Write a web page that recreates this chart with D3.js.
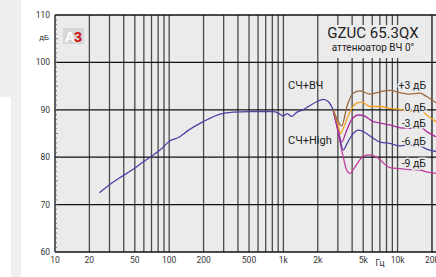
<!DOCTYPE html>
<html>
<head>
<meta charset="utf-8">
<script src="https://cdn.jsdelivr.net/npm/d3@7"></script>
<style>
	body { margin: 0; background: #fff; }
	svg { display: block; font-family: "Liberation Sans Narrow", "Roboto", sans-serif; }
</style>
</head>
<body>
<svg id="chart" width="436" height="277"></svg>
<script>
'use strict';

// * data (freq in Hz, level in dB)
const commonCurve = [
	[24.5, 72.5], [30, 74.2], [36, 75.5], [48, 77.4], [59, 79], [68, 80], [83, 81.5],
	[101, 83.4], [124, 84.3], [142, 85.4], [199, 87.5], [279, 89.1], [364, 89.5],
	[510, 89.6], [816, 89.6], [901, 89.3], [1000, 88.7], [1080, 89.2], [1180, 88.6],
	[1300, 89.4], [1490, 90.0], [1710, 90.9], [1957, 91.7], [2240, 92.2], [2480, 91.7],
	[2735, 90.0]
];

const plus3 = [
	[2735, 90.1], [3000, 87.6], [3250, 86.6], [3580, 90.5], [4093, 93.5], [4690, 94.0],
	[5730, 93.3], [7010, 93.8], [8580, 94.1], [10500, 93.6], [12840, 93.3], [15700, 93.5],
	[17980, 92.8], [21700, 91.5]
];
const zero = [
	[2735, 90.0], [3000, 87.0], [3176, 85.0], [3400, 86.5], [3830, 89.6], [4385, 91.4],
	[4850, 91.6], [5730, 90.7], [7010, 90.7], [8580, 90.3], [10500, 90.1], [12840, 89.6],
	[15700, 90.0], [17980, 88.9], [21700, 87.5]
];
const minus3 = [
	[2735, 89.9], [3000, 86.0], [3239, 83.2], [3500, 85.0], [3830, 87.3], [4529, 88.9],
	[5008, 88.8], [6127, 87.5], [7015, 87.2], [8580, 86.8], [10500, 86.2], [12840, 86.1],
	[15700, 86.4], [17980, 85.4], [21700, 84.3]
];
const minus6 = [
	[2735, 89.8], [3030, 85.5], [3346, 81.5], [3600, 82.8], [3830, 84.0], [4529, 85.7],
	[5008, 85.4], [6127, 84.0], [7015, 83.2], [8580, 82.9], [10500, 82.4], [12840, 82.6],
	[15700, 82.4], [17980, 81.7], [21700, 81.2]
];
const minus9 = [
	[2735, 89.7], [3030, 85.0], [3346, 80.0], [3583, 77.3], [3830, 76.6], [4200, 77.8],
	[4690, 79.5], [5008, 80.2], [5732, 80.5], [6561, 80.0], [8580, 77.8], [10500, 77.6],
	[12840, 77.4], [15700, 77.3], [17980, 76.9], [21700, 76.6]
];

const branchLabels = ['+3 дБ', '0 дБ', '-3 дБ', '-6 дБ', '-9 дБ'];
const branchColors = ['#9c6a3c', '#f4a21e', '#a8309c', '#4a42a6', '#c23a9e'];
const branchLabelDb = [95.1, 90.4, 87.2, 83.4, 78.7];

const xTickValues = [10, 20, 50, 100, 200, 500, 1000, 2000, 5000, 10000, 20000];
const xTickLabels = ['10', '20', '50', '100', '200', '500', '1k', '2k', '5k', '10k', '20k'];
const yTickValues = [60, 70, 80, 90, 100, 110];

const svg = d3.select('#chart');

// - left page decoration
svg.append('rect').attr('x', 0).attr('y', 0).attr('width', 21).attr('height', 277).attr('fill', '#efefef');
svg.append('rect').attr('x', 0).attr('y', 97).attr('width', 11).attr('height', 180).attr('fill', '#fff');

const plot = { left: 55, right: 436, top: 15, bottom: 252 };

const x = d3.scaleLog().domain([10, 21700]).range([plot.left, plot.right]);
const y = d3.scaleLinear().domain([60, 110]).range([plot.bottom, plot.top]);

svg.append('rect')
	.attr('x', plot.left).attr('y', plot.top)
	.attr('width', plot.right - plot.left).attr('height', plot.bottom - plot.top)
	.attr('fill', '#ebebeb');

// - vertical grid, every 1-2-...-9 of each decade
const gridFreqs = [];
for (let dec = 10; dec <= 10000; dec *= 10)
	for (let m = 1; m < 10; m++)
		if (dec * m > 10 && dec * m <= 20000) gridFreqs.push(dec * m);
gridFreqs.push(20000);

svg.append('g')
	.selectAll('line')
	.data(gridFreqs)
	.join('line')
		.attr('x1', d => x(d)).attr('x2', d => x(d))
		.attr('y1', plot.top).attr('y2', plot.bottom)
		.attr('stroke', '#4a4a4a')
		.attr('stroke-width', 1.3);

// - plain boxes behind the title and the branch labels (hide the vertical grid there)
svg.append('rect').attr('x', 332).attr('y', 25).attr('width', 86).attr('height', 33).attr('fill', '#ebebeb');
svg.append('rect').attr('x', 399).attr('y', 76).attr('width', 29).attr('height', 100).attr('fill', '#ebebeb');

// - horizontal grid
svg.append('g')
	.selectAll('line')
	.data(yTickValues)
	.join('line')
		.attr('x1', plot.left).attr('x2', plot.right)
		.attr('y1', d => y(d)).attr('y2', d => y(d))
		.attr('stroke', '#111')
		.attr('stroke-width', 1.3);

// - left axis with minor ticks inside
svg.append('line')
	.attr('x1', plot.left).attr('x2', plot.left)
	.attr('y1', plot.top).attr('y2', plot.bottom)
	.attr('stroke', '#111').attr('stroke-width', 1.3);

svg.append('g')
	.selectAll('line')
	.data(d3.range(60, 111))
	.join('line')
		.attr('x1', plot.left).attr('x2', d => plot.left + (d % 5 === 0 ? 3 : 2))
		.attr('y1', d => y(d)).attr('y2', d => y(d))
		.attr('stroke', '#555').attr('stroke-width', 0.7);

// - y labels
svg.append('g')
	.selectAll('text')
	.data(yTickValues)
	.join('text')
		.attr('x', 50).attr('y', d => y(d) + 3)
		.attr('text-anchor', 'end')
		.attr('font-size', 8.5)
		.attr('fill', '#333')
		.text(d => d);

svg.append('text').attr('x', 49).attr('y', 40).attr('text-anchor', 'end')
	.attr('font-size', 8).attr('fill', '#333').text('дБ');

// - x labels
svg.append('g')
	.selectAll('text')
	.data(xTickValues)
	.join('text')
		.attr('x', d => x(d)).attr('y', 263)
		.attr('text-anchor', 'middle')
		.attr('font-size', 8.5)
		.attr('fill', '#333')
		.text((d, i) => xTickLabels[i]);

svg.append('text').attr('x', 380).attr('y', 266).attr('text-anchor', 'middle')
	.attr('font-size', 8.5).attr('fill', '#333').text('Гц');

// - logo
svg.append('rect').attr('x', 63).attr('y', 28).attr('width', 21).attr('height', 16).attr('fill', '#d6d6d6');
const logo = svg.append('text').attr('x', 64.5).attr('y', 42)
	.attr('font-family', 'Liberation Sans, Arial, sans-serif')
	.attr('font-weight', 'bold').attr('font-size', 15);
logo.append('tspan').attr('fill', '#fff').text('A');
logo.append('tspan').attr('fill', '#cc1a1a').attr('dx', -1.5).text('3');

// - curves
const line = d3.line()
	.x(d => x(d[0]))
	.y(d => y(d[1]))
	.curve(d3.curveMonotoneX);

const branches = [plus3, zero, minus3, minus6, minus9];

svg.append('clipPath').attr('id', 'clip')
	.append('rect')
	.attr('x', plot.left).attr('y', plot.top)
	.attr('width', plot.right - plot.left).attr('height', plot.bottom - plot.top);

const curves = svg.append('g').attr('clip-path', 'url(#clip)');

branches.slice().reverse().forEach((b, i) =>
{
	curves.append('path')
		.datum(b)
		.attr('d', line)
		.attr('fill', 'none')
		.attr('stroke', branchColors[branches.length - 1 - i])
		.attr('stroke-width', 1.3);
});

curves.append('path')
	.datum(commonCurve)
	.attr('d', line)
	.attr('fill', 'none')
	.attr('stroke', '#4a42a6')
	.attr('stroke-width', 1.3);

// - branch labels, with a halo of the plot colour
svg.append('g')
	.selectAll('text')
	.data(branchLabels)
	.join('text')
		.attr('x', 426).attr('y', (d, i) => y(branchLabelDb[i]) + 3.5)
		.attr('text-anchor', 'end')
		.attr('font-size', 10.5)
		.attr('fill', '#222')
		.attr('stroke', '#ebebeb').attr('stroke-width', 3)
		.attr('paint-order', 'stroke')
		.text(d => d);

// - annotations and title
const notes = [
	{ t: 'СЧ+ВЧ', x: 288, y: 89, s: 11 },
	{ t: 'СЧ+High', x: 288, y: 144, s: 11 }
];
svg.append('g')
	.selectAll('text')
	.data(notes)
	.join('text')
		.attr('x', d => d.x).attr('y', d => d.y)
		.attr('font-size', d => d.s)
		.attr('fill', '#222')
		.text(d => d.t);

svg.append('text').attr('x', 373).attr('y', 38).attr('text-anchor', 'middle')
	.attr('font-size', 15).attr('fill', '#222').text('GZUC 65.3QX');
svg.append('text').attr('x', 373).attr('y', 51).attr('text-anchor', 'middle')
	.attr('font-size', 10).attr('fill', '#222').text('аттенюатор ВЧ 0°');
</script>
</body>
</html>
